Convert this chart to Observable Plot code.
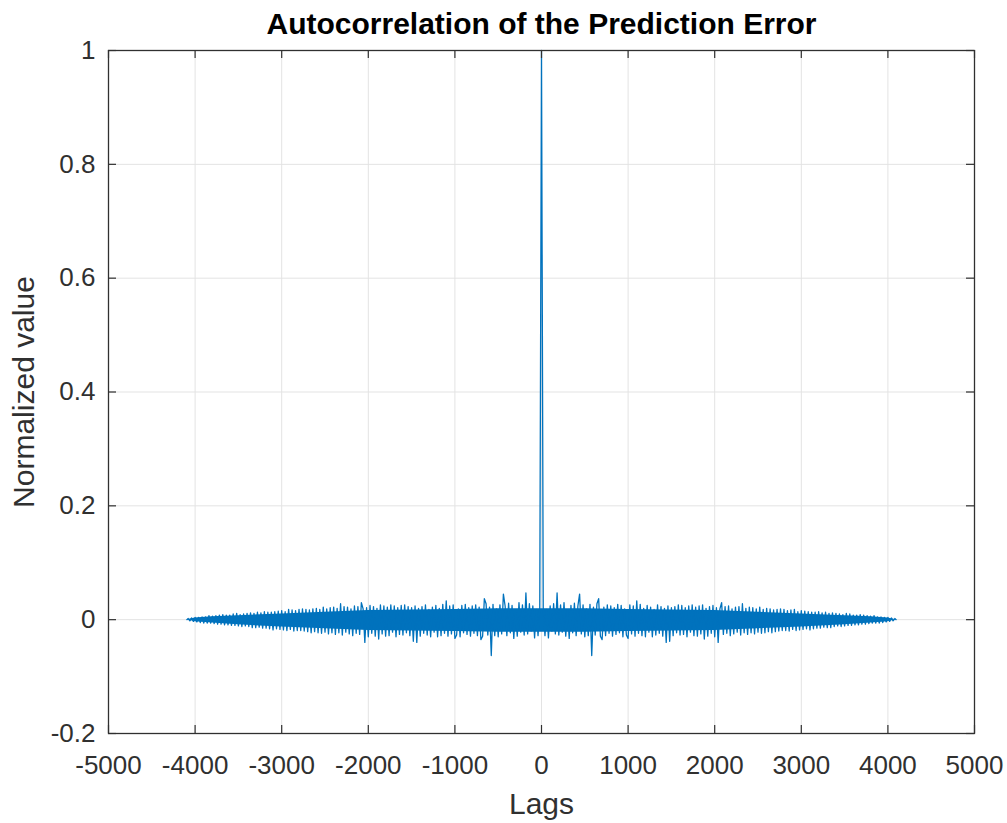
<!DOCTYPE html>
<html>
<head>
<meta charset="utf-8">
<script src="https://cdn.jsdelivr.net/npm/d3@7"></script>
<script src="https://cdn.jsdelivr.net/npm/@observablehq/plot@0.6"></script>
<style>
  html, body { margin: 0; padding: 0; background: #ffffff; }
  #chart { width: 1007px; height: 823px; }
</style>
</head>
<body>
<div id="chart"></div>
<script>
// ---- Data ----
const titleText = "Autocorrelation of the Prediction Error";
const xLabelText = "Lags";
const yLabelText = "Normalized value";

const xTickValues = [-5000, -4000, -3000, -2000, -1000, 0, 1000, 2000, 3000, 4000, 5000];
const xTickLabels = ["-5000", "-4000", "-3000", "-2000", "-1000", "0", "1000", "2000", "3000", "4000", "5000"];
const yTickValues = [-0.2, 0, 0.2, 0.4, 0.6, 0.8, 1];
const yTickLabels = ["-0.2", "0", "0.2", "0.4", "0.6", "0.8", "1"];

// Autocorrelation is symmetric: value at lag 0, then values at positive lags
// (every 20 lags, 20 ... 4080, then the last lag 4095); negative lags mirror them.
const lagZeroValue = 1;
const lastLag = 4095;
const lagStep = 20;
const positiveLagValues = [
  0.021,-0.028,0.018,-0.032,0.024,-0.020,0.028,-0.025,0.047,-0.027,
  0.026,-0.022,0.030,-0.029,0.017,-0.033,0.025,-0.023,0.029,-0.028,
  0.024,0.045,-0.025,0.026,-0.030,0.019,-0.028,0.027,-0.063,0.022,
  -0.027,0.028,0.037,-0.029,-0.035,0.022,-0.028,0.026,-0.024,0.024,
  -0.029,0.021,-0.026,0.027,-0.023,0.025,-0.030,0.019,-0.027,-0.033,
  0.026,-0.025,0.024,-0.029,0.033,-0.024,0.027,-0.028,0.020,-0.030,
  0.025,-0.022,0.022,-0.030,0.018,-0.027,0.026,-0.024,0.023,-0.029,
  0.020,-0.040,0.024,-0.038,0.021,-0.028,0.023,-0.023,0.026,-0.027,
  0.025,-0.026,0.021,-0.030,0.024,-0.022,0.026,-0.028,0.022,-0.029,
  0.024,-0.025,0.026,-0.034,0.020,-0.029,0.023,-0.024,0.025,-0.030,
  0.021,-0.040,0.019,0.030,-0.026,0.023,-0.024,0.024,-0.028,0.019,
  -0.025,0.022,-0.022,0.023,-0.027,0.028,-0.023,0.020,-0.026,0.022,
  -0.023,0.021,-0.025,0.019,-0.022,0.022,-0.024,0.018,-0.023,0.020,
  -0.021,0.019,-0.023,0.017,-0.021,0.018,-0.020,0.019,-0.019,0.018,
  -0.019,0.016,-0.020,0.017,-0.017,0.018,-0.019,0.014,-0.018,0.016,
  -0.017,0.015,-0.016,0.014,-0.018,0.013,-0.016,0.013,-0.015,0.014,
  -0.015,0.012,-0.013,0.013,-0.014,0.011,-0.014,0.012,-0.012,0.011,
  -0.011,0.010,-0.012,0.009,-0.011,0.011,-0.010,0.010,-0.010,0.008,
  -0.009,0.008,-0.009,0.009,-0.008,0.008,-0.008,0.007,-0.007,0.006,
  -0.006,0.007,-0.006,0.005,-0.006,0.005,-0.005,0.004,-0.004,0.004,
  -0.003,0.003,-0.002,0.002
];
const lastLagValue = 0;

// Dense core of the noise band (where the samples overlap into a solid fill)
const coreLags  = [0, 500, 1000, 1500, 2000, 2500, 3000, 3500, 3800, 4000, 4095];
const coreUpper = [0.019, 0.019, 0.018, 0.017, 0.016, 0.013, 0.010, 0.007, 0.005, 0.0028, 0];
const coreLower = [-0.022, -0.022, -0.021, -0.020, -0.019, -0.016, -0.013, -0.009, -0.006, -0.0035, 0];

// ---- Build the series tables ----
const positive = positiveLagValues.map((v, i) => ({lag: (i + 1) * lagStep, v}));
positive.push({lag: lastLag, v: lastLagValue});
const negative = positive.map(d => ({lag: -d.lag, v: d.v})).reverse();
const series = [...negative, {lag: 0, v: lagZeroValue}, ...positive];

const corePos = coreLags.map((lag, i) => ({lag, hi: coreUpper[i], lo: coreLower[i]}));
const core = [...corePos.slice(1).map(d => ({...d, lag: -d.lag})).reverse(), ...corePos];

// ---- Styling ----
const lineColor = "#0072BD";
const axisColor = "#303030";
const gridColor = "#e3e3e3";
const fontFamily = "'Liberation Sans', Arial, Helvetica, sans-serif";

const W = 1007, H = 823;
const mTop = 50, mLeft = 108, mRight = 33, mBottom = 90;
const frameW = W - mLeft - mRight, frameH = H - mTop - mBottom;
const tickLen = 8;

const xFmt = d => xTickLabels[xTickValues.indexOf(d)];
const yFmt = d => yTickLabels[yTickValues.indexOf(d)];

const chart = Plot.plot({
  width: W,
  height: H,
  marginTop: mTop,
  marginLeft: mLeft,
  marginRight: mRight,
  marginBottom: mBottom,
  style: {fontFamily, background: "#ffffff", color: axisColor},
  x: {domain: [-5000, 5000], axis: null},
  y: {domain: [-0.2, 1], axis: null},
  marks: [
    // grid
    Plot.ruleX(xTickValues, {x: d => d, stroke: gridColor, strokeWidth: 1}),
    Plot.ruleY(yTickValues, {y: d => d, stroke: gridColor, strokeWidth: 1}),
    // data
    Plot.areaY(core, {x: "lag", y1: "lo", y2: "hi", fill: lineColor}),
    Plot.line(series, {x: "lag", y: "v", stroke: lineColor, strokeWidth: 1.3}),
    // box
    Plot.frame({stroke: axisColor, strokeWidth: 1.3}),
    // inward ticks on all four sides
    Plot.ruleX(xTickValues, {x: d => d, insetTop: frameH - tickLen, stroke: axisColor, strokeWidth: 1.2}),
    Plot.ruleX(xTickValues, {x: d => d, insetBottom: frameH - tickLen, stroke: axisColor, strokeWidth: 1.2}),
    Plot.ruleY(yTickValues, {y: d => d, insetRight: frameW - tickLen, stroke: axisColor, strokeWidth: 1.2}),
    Plot.ruleY(yTickValues, {y: d => d, insetLeft: frameW - tickLen, stroke: axisColor, strokeWidth: 1.2}),
    // tick labels
    Plot.axisX(xTickValues, {anchor: "bottom", tickSize: 0, tickPadding: 22, fontSize: 26,
      tickFormat: xFmt, label: null, color: axisColor}),
    Plot.axisY(yTickValues, {anchor: "left", tickSize: 0, tickPadding: 13, fontSize: 26,
      tickFormat: yFmt, label: null, color: axisColor}),
    // axis titles
    Plot.text([xLabelText], {text: d => d, frameAnchor: "bottom", dy: 71, fontSize: 30,
      textAnchor: "middle", lineAnchor: "middle", fill: axisColor}),
    Plot.text([yLabelText], {text: d => d, frameAnchor: "left", dx: -84, rotate: -90, fontSize: 30,
      textAnchor: "middle", lineAnchor: "middle", fill: axisColor}),
    Plot.text([titleText], {text: d => d, frameAnchor: "top", dy: -26, fontSize: 30,
      textAnchor: "middle", fontWeight: "bold", lineAnchor: "middle", fill: "#000000"})
  ]
});
document.getElementById("chart").appendChild(chart);
</script>
</body>
</html>
